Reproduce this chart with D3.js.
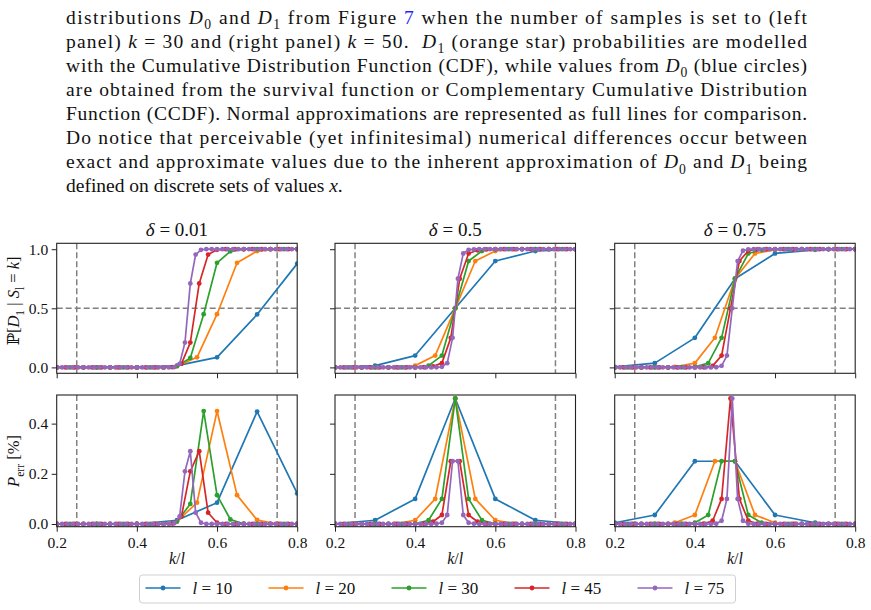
<!DOCTYPE html>
<html><head><meta charset="utf-8">
<script src="https://cdn.jsdelivr.net/npm/d3@7"></script>
<style>body{margin:0;background:#fff} svg{display:block}</style>
</head><body><svg id="c" width="871" height="610"></svg>
<script>
// ---------- data ----------
const lValues = [10, 20, 30, 45, 75];
const kStart = [2, 4, 6, 9, 15];          // first k with k/l = 0.2
const deltaLabels = ["0.01", "0.5", "0.75"];
const xTicks = [0.2, 0.4, 0.6, 0.8];
const yTicksTop = [0.0, 0.5, 1.0];
const yTicksBottom = [0.0, 0.2, 0.4];
const colors = ["#1f77b4", "#ff7f0e", "#2ca02c", "#d62728", "#9467bd"];

// P[D1 | S_l = k], delta = 0.01
const probD001 = [
  [0, 0, 0, 0.015, 0.085, 0.448, 0.878],
  [0,0,0,0,0,0, 0.01, 0.085, 0.45, 0.885, 0.984, 0.999, 1],
  [0,0,0,0,0,0,0,0,0, 0.01, 0.08, 0.45, 0.885, 0.982, 0.999, 1,1,1,1],
  [0,0,0,0,0,0,0,0,0,0,0,0,0, 0.002, 0.03, 0.21, 0.71, 0.955, 0.995, 1,1,1,1,1,1,1,1,1],
  [0,0,0,0,0,0,0,0,0,0, 0,0,0,0,0,0,0,0,0,0, 0,0, 0.003, 0.03, 0.21, 0.71, 0.955, 0.995, 1,1,1,1,1,1,1,1,1,1, 1,1,1,1,1,1,1,1]
];
// P_err, delta = 0.01
const errD001 = [
  [0, 0, 0, 0.015, 0.085, 0.448, 0.122],
  [0,0,0,0,0,0, 0.01, 0.085, 0.45, 0.115, 0.016, 0.001, 0],
  [0,0,0,0,0,0,0,0,0, 0.01, 0.08, 0.45, 0.115, 0.018, 0.001, 0,0,0,0],
  [0,0,0,0,0,0,0,0,0,0,0,0,0, 0.002, 0.03, 0.21, 0.29, 0.045, 0.005, 0,0,0,0,0,0,0,0,0],
  [0,0,0,0,0,0,0,0,0,0, 0,0,0,0,0,0,0,0,0,0, 0,0, 0.003, 0.03, 0.21, 0.29, 0.045, 0.005, 0,0,0,0,0,0,0,0,0,0, 0,0,0,0,0,0,0,0]
];
// P[D1 | S_l = k], delta = 0.5
const probD05 = [
  [0.001, 0.015, 0.1, 0.5, 0.9, 0.985, 0.999],
  [0,0,0, 0.001, 0.015, 0.1, 0.5, 0.9, 0.985, 0.999, 1,1,1],
  [0,0,0,0,0,0, 0.001, 0.015, 0.1, 0.5, 0.9, 0.985, 0.999, 1,1,1,1,1,1],
  [0,0,0,0,0,0,0,0,0,0, 0.001, 0.009, 0.036, 0.25, 0.75, 0.964, 0.991, 0.999, 1,1,1,1,1,1,1,1,1,1],
  [0,0,0,0,0,0,0,0,0,0, 0,0,0,0,0,0,0,0,0, 0.001, 0.005, 0.036, 0.25, 0.75, 0.964, 0.995, 0.999, 1,1,1,1,1,1,1,1,1,1, 1,1,1,1,1,1,1,1,1]
];
// P_err, delta = 0.5
const errD05 = [
  [0.001, 0.015, 0.1, 0.5, 0.1, 0.015, 0.001],
  [0,0,0, 0.001, 0.015, 0.1, 0.5, 0.1, 0.015, 0.001, 0,0,0],
  [0,0,0,0,0,0, 0.001, 0.015, 0.1, 0.5, 0.1, 0.015, 0.001, 0,0,0,0,0,0],
  [0,0,0,0,0,0,0,0,0,0, 0.001, 0.009, 0.036, 0.25, 0.25, 0.036, 0.009, 0.001, 0,0,0,0,0,0,0,0,0,0],
  [0,0,0,0,0,0,0,0,0,0, 0,0,0,0,0,0,0,0,0, 0.001, 0.005, 0.036, 0.25, 0.25, 0.036, 0.005, 0.001, 0,0,0,0,0,0,0,0,0,0, 0,0,0,0,0,0,0,0,0]
];
// P[D1 | S_l = k], delta = 0.75
const probD075 = [
  [0.005, 0.036, 0.25, 0.75, 0.964, 0.995, 1],
  [0,0, 0.001, 0.005, 0.036, 0.25, 0.75, 0.964, 0.995, 0.999, 1,1,1],
  [0,0,0,0,0, 0.001, 0.005, 0.036, 0.25, 0.75, 0.964, 0.995, 0.999, 1,1,1,1,1,1],
  [0,0,0,0,0,0,0,0,0,0, 0.001, 0.013, 0.1, 0.5, 0.9, 0.987, 0.999, 1,1,1,1,1,1,1,1,1,1,1],
  [0,0,0,0,0,0,0,0,0,0, 0,0,0,0,0,0,0,0,0, 0.001, 0.013, 0.1, 0.5, 0.9, 0.987, 0.999, 1,1,1,1,1,1,1,1,1,1, 1,1,1,1,1,1,1,1,1,1]
];
// P_err, delta = 0.75
const errD075 = [
  [0.005, 0.036, 0.25, 0.25, 0.036, 0.005, 0],
  [0,0, 0.001, 0.005, 0.036, 0.25, 0.25, 0.036, 0.005, 0.001, 0,0,0],
  [0,0,0,0,0, 0.001, 0.005, 0.036, 0.25, 0.25, 0.036, 0.005, 0.001, 0,0,0,0,0,0],
  [0,0,0,0,0,0,0,0,0,0, 0.001, 0.013, 0.1, 0.5, 0.1, 0.013, 0.001, 0,0,0,0,0,0,0,0,0,0,0],
  [0,0,0,0,0,0,0,0,0,0, 0,0,0,0,0,0,0,0,0, 0.001, 0.013, 0.1, 0.5, 0.1, 0.013, 0.001, 0,0,0,0,0,0,0,0,0,0, 0,0,0,0,0,0,0,0,0,0]
];

const captionLines = [
  [["distributions "],["D","i"],["0","s"],[" and "],["D","i"],["1","s"],[" from Figure "],["7","b"],[" when the number of samples is set to (left"]],
  [["panel) "],["k","i"],[" = 30 and (right panel) "],["k","i"],[" = 50.  "],["D","i"],["1","s"],[" (orange star) probabilities are modelled"]],
  [["with the Cumulative Distribution Function (CDF), while values from "],["D","i"],["0","s"],[" (blue circles)"]],
  [["are obtained from the survival function or Complementary Cumulative Distribution"]],
  [["Function (CCDF). Normal approximations are represented as full lines for comparison."]],
  [["Do notice that perceivable (yet infinitesimal) numerical differences occur between"]],
  [["exact and approximate values due to the inherent approximation of "],["D","i"],["0","s"],[" and "],["D","i"],["1","s"],[" being"]],
  [["defined on discrete sets of values "],["x","i"],["."]]
];

// ---------- drawing ----------
const svg = d3.select("#c");
svg.append("rect").attr("width", 871).attr("height", 610).attr("fill", "#fff");
const SERIF = "'Liberation Serif', 'DejaVu Serif', serif";

function addRich(textSel, segs, fs) {
  let shift = 0;
  segs.forEach(s => {
    const sub = s[1] === "s" ? fs * 0.28 : 0;
    const t = textSel.append("tspan").text(s[0]);
    if (sub - shift !== 0) t.attr("dy", sub - shift);
    shift = sub;
    if (s[1] === "s") t.attr("font-size", fs * 0.7);
    if (s[1] === "i") t.attr("font-style", "italic");
    if (s[1] === "b") t.attr("fill", "#1f1fff");
    if (s[1] === "bb") t.attr("font-family", "'DejaVu Serif', serif");
  });
}

// caption
captionLines.forEach((segs, i) => {
  const t = svg.append("text")
    .attr("x", 66).attr("y", 23.5 + i * 24.1)
    .attr("font-family", SERIF).attr("font-size", 19.5).attr("fill", "#111")
    .style("white-space", "pre");
  addRich(t, segs, 19.5);
  if (i < captionLines.length - 1) t.attr("textLength", 741).attr("lengthAdjust", "spacing");
});

const colLeft = [56.7, 335, 614.7];
const colW = 240.5;
const rowTop = [243.3, 395];
const rowBot = [373.3, 526.7];
const yDomains = [[-0.05, 1.05], [-0.0107, 0.514]];
const probSets = [probD001, probD05, probD075];
const errSets = [errD001, errD05, errD075];

for (let c = 0; c < 3; c++) {
  for (let r = 0; r < 2; r++) {
    const x = d3.scaleLinear().domain([0.2, 0.8]).range([colLeft[c], colLeft[c] + colW]);
    const y = d3.scaleLinear().domain(yDomains[r]).range([rowBot[r], rowTop[r]]);
    const g = svg.append("g");
    const clipId = `clip${c}${r}`;
    svg.append("clipPath").attr("id", clipId).append("rect")
      .attr("x", colLeft[c]).attr("y", rowTop[r]).attr("width", colW).attr("height", rowBot[r] - rowTop[r]);
    const pg = g.append("g").attr("clip-path", `url(#${clipId})`);

    // reference dashed lines
    [0.25, 0.75].forEach(v => {
      pg.append("line").attr("x1", x(v)).attr("x2", x(v)).attr("y1", rowTop[r]).attr("y2", rowBot[r])
        .attr("stroke", "#808080").attr("stroke-width", 1.5).attr("stroke-dasharray", "6,3");
    });
    if (r === 0) {
      pg.append("line").attr("x1", colLeft[c]).attr("x2", colLeft[c] + colW).attr("y1", y(0.5)).attr("y2", y(0.5))
        .attr("stroke", "#808080").attr("stroke-width", 1.5).attr("stroke-dasharray", "6,3");
    }

    const sets = r === 0 ? probSets[c] : errSets[c];
    const line = d3.line().x(d => x(d.x)).y(d => y(d.y));
    sets.forEach((vals, i) => {
      const pts = vals.map((v, j) => ({ x: (kStart[i] + j) / lValues[i], y: v }));
      pg.append("path").datum(pts).attr("d", line).attr("fill", "none")
        .attr("stroke", colors[i]).attr("stroke-width", 1.7).attr("stroke-linejoin", "round");
      pg.selectAll(null).data(pts).enter().append("circle")
        .attr("cx", d => x(d.x)).attr("cy", d => y(d.y)).attr("r", 2.4).attr("fill", colors[i]);
    });

    // axes
    const ya = d3.axisLeft(y).tickValues(r === 0 ? yTicksTop : yTicksBottom).tickSize(5).tickPadding(3.5)
      .tickFormat(c === 0 ? d3.format(".1f") : () => "");
    const yg = g.append("g").attr("transform", `translate(${colLeft[c]},0)`).call(ya);
    const xa = d3.axisBottom(x).tickValues(xTicks).tickSize(5).tickPadding(5.5)
      .tickFormat(r === 1 ? d3.format(".1f") : () => "");
    const xg = g.append("g").attr("transform", `translate(0,${rowBot[r]})`).call(xa);
    [yg, xg].forEach(a => {
      a.select(".domain").remove();
      a.selectAll(".tick line").attr("stroke", "#222").attr("stroke-width", 1);
      a.selectAll(".tick text").attr("font-family", SERIF).attr("font-size", 15.5).attr("fill", "#111");
    });
    g.append("rect").attr("x", colLeft[c]).attr("y", rowTop[r]).attr("width", colW)
      .attr("height", rowBot[r] - rowTop[r]).attr("fill", "none").attr("stroke", "#222").attr("stroke-width", 1.1);
  }
  // titles
  const cx = colLeft[c] + colW / 2;
  const tt = svg.append("text").attr("x", cx).attr("y", 236).attr("text-anchor", "middle")
    .attr("font-family", SERIF).attr("font-size", 19).attr("fill", "#111").style("white-space", "pre");
  addRich(tt, [["δ", "i"], [" = " + deltaLabels[c]]], 19);
  const xl = svg.append("text").attr("x", cx).attr("y", 564).attr("text-anchor", "middle")
    .attr("font-family", SERIF).attr("font-size", 16).attr("fill", "#111");
  addRich(xl, [["k", "i"], ["/"], ["l", "i"]], 16);
}

// y labels
const yl1 = svg.append("text").attr("transform", "translate(19,301) rotate(-90)").attr("text-anchor", "middle")
  .attr("font-family", SERIF).attr("font-size", 16.5).attr("fill", "#111").style("white-space", "pre");
addRich(yl1, [["ℙ", "bb"], ["["], ["D", "i"], ["1", "s"], [" | "], ["S", "i"], ["l", "s"], [" = "], ["k", "i"], ["]"]], 16.5);
const yl2 = svg.append("text").attr("transform", "translate(19,461) rotate(-90)").attr("text-anchor", "middle")
  .attr("font-family", SERIF).attr("font-size", 16.5).attr("fill", "#111").style("white-space", "pre");
addRich(yl2, [["P", "i"], ["err", "s"], [" [%]"]], 16.5);

// legend
const lg = svg.append("g");
lg.append("rect").attr("x", 139.5).attr("y", 575).attr("width", 596).attr("height", 28).attr("rx", 3)
  .attr("fill", "#fff").attr("stroke", "#d0d0d0").attr("stroke-width", 1);
lValues.forEach((l, i) => {
  const lx = 145.5 + i * 123;
  lg.append("line").attr("x1", lx).attr("x2", lx + 35).attr("y1", 588).attr("y2", 588)
    .attr("stroke", colors[i]).attr("stroke-width", 1.7);
  lg.append("circle").attr("cx", lx + 17.5).attr("cy", 588).attr("r", 2.4).attr("fill", colors[i]);
  const t = lg.append("text").attr("x", lx + 47).attr("y", 594).attr("font-family", SERIF)
    .attr("font-size", 17).attr("fill", "#111").style("white-space", "pre");
  addRich(t, [["l", "i"], [" = " + l]], 17);
});
</script></body></html>
